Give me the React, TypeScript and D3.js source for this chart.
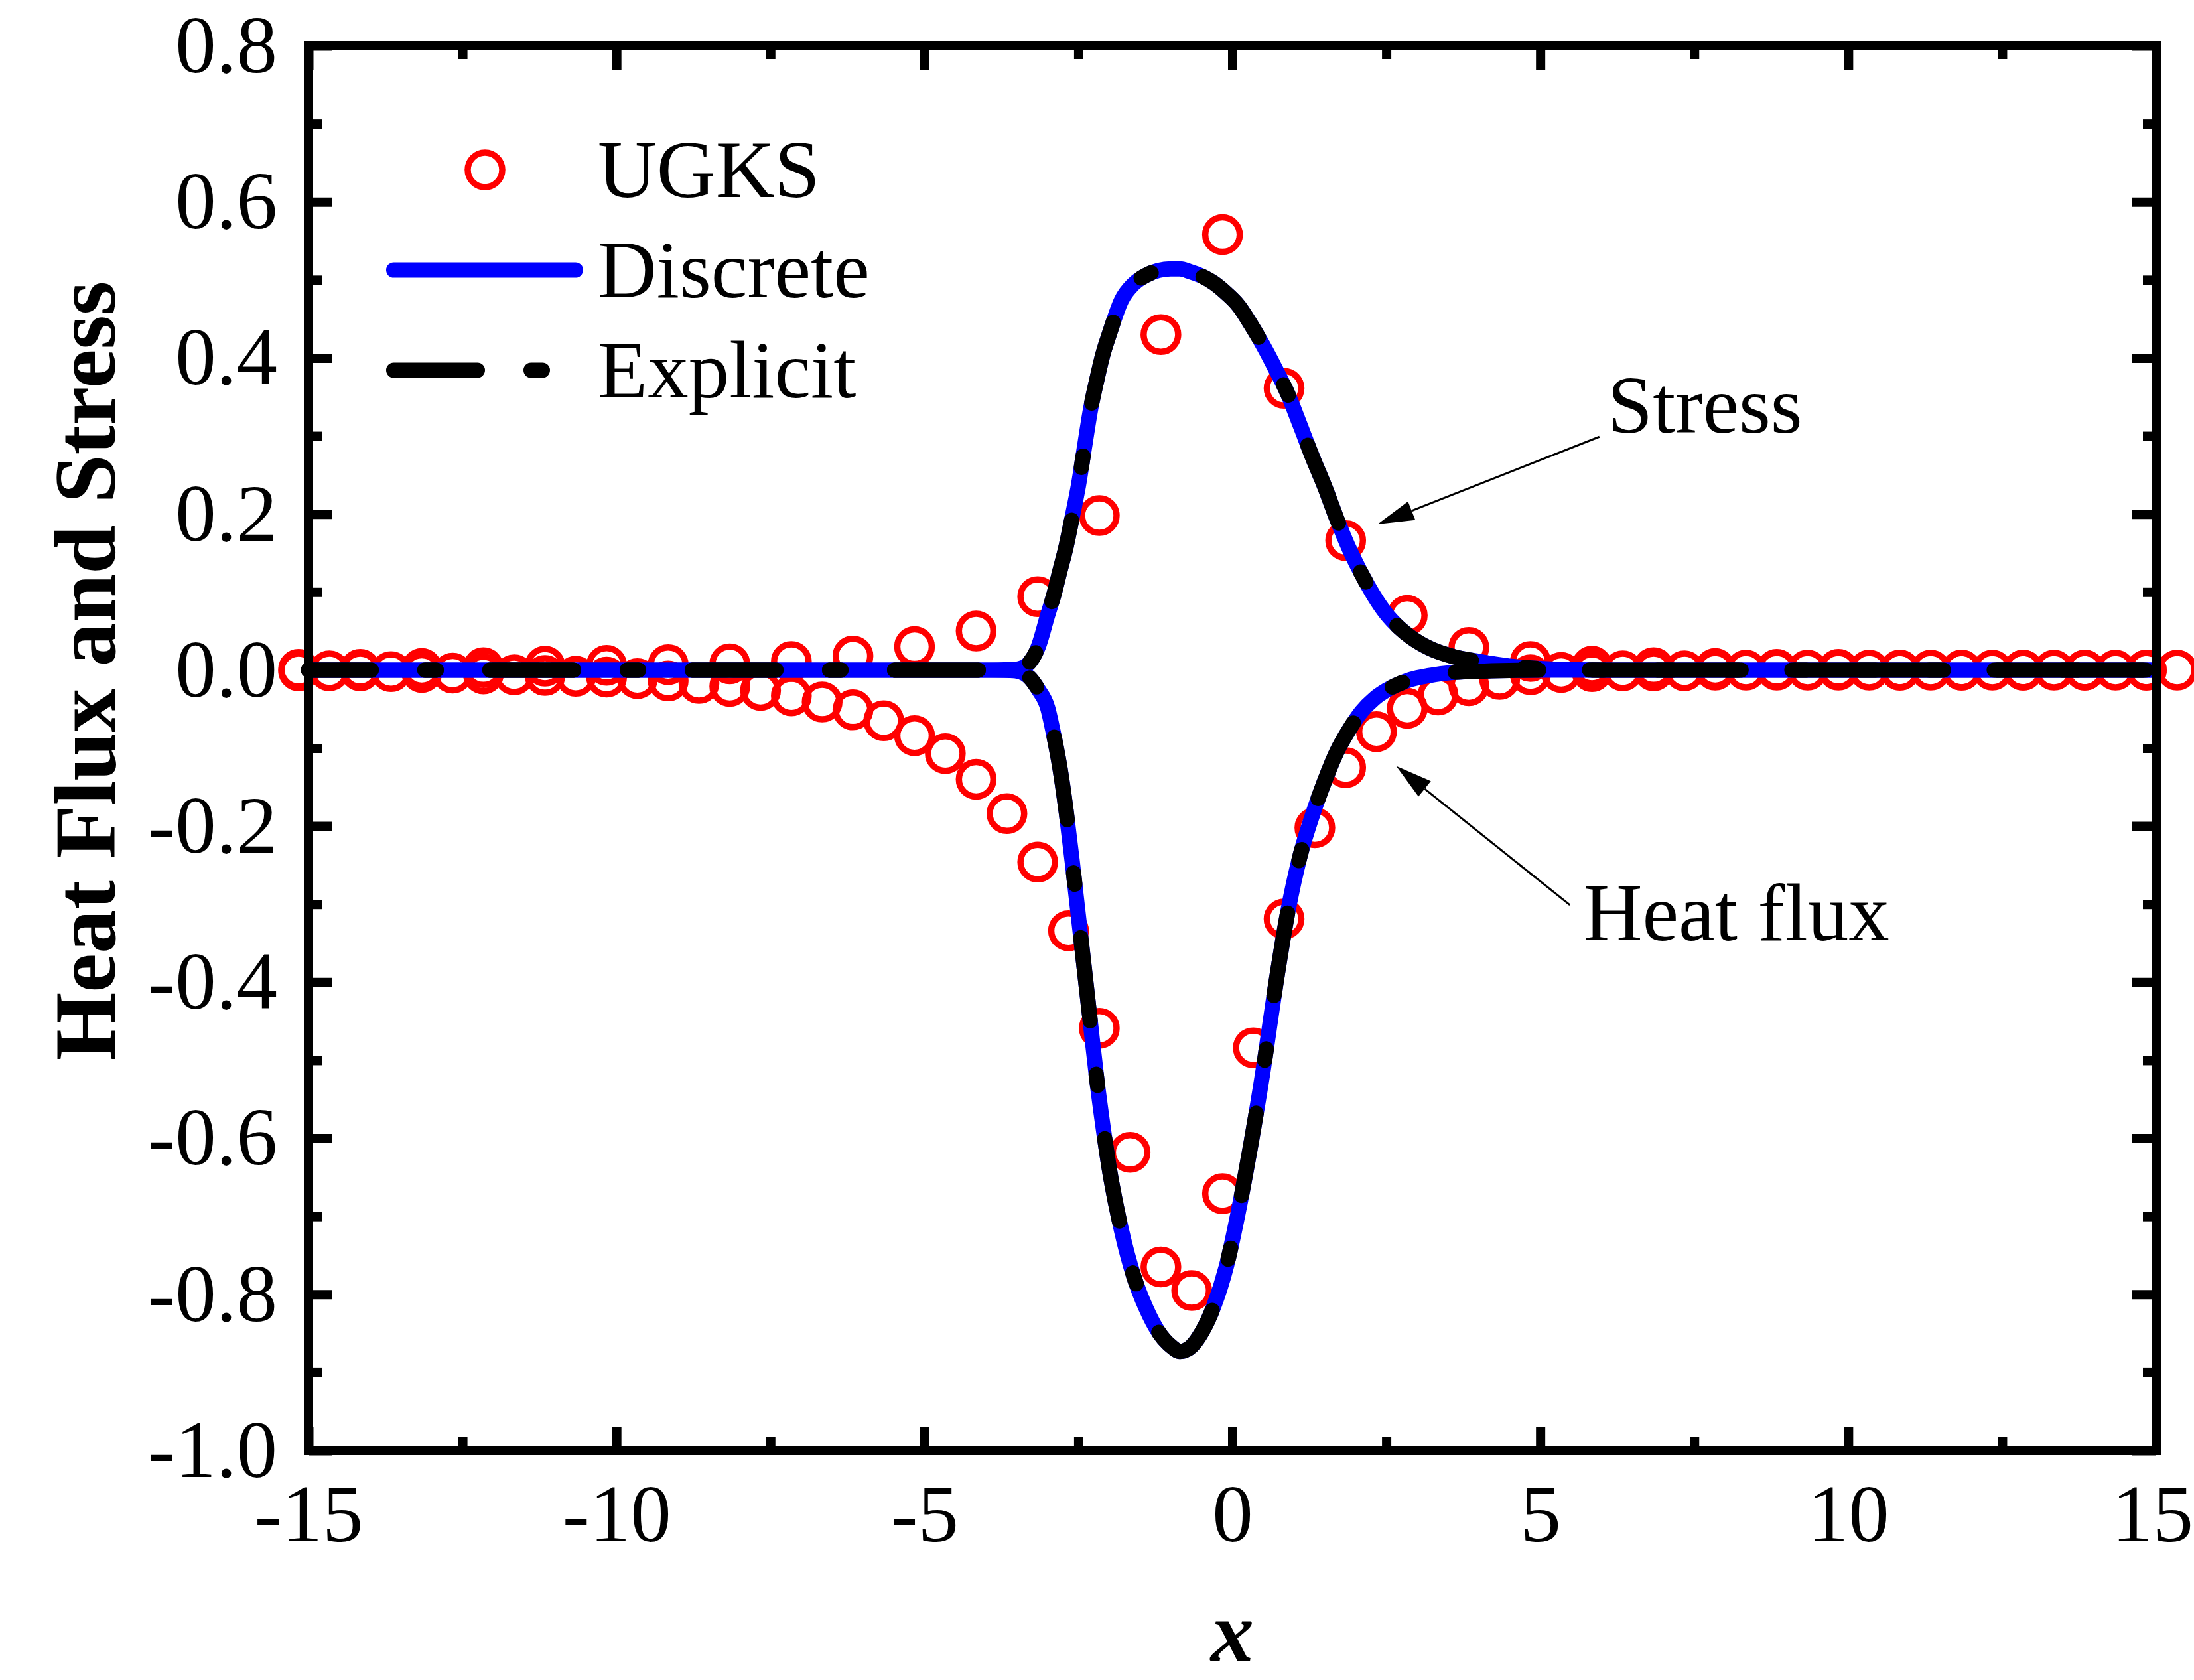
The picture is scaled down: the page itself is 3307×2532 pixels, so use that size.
import React, { useEffect, useRef } from 'react';
import * as d3 from 'd3';

// axis ticks
const xTicks = [-15, -10, -5, 0, 5, 10, 15];
const xMinor = [-12.5, -7.5, -2.5, 2.5, 7.5, 12.5];
const yTicks = [-1.0, -0.8, -0.6, -0.4, -0.2, 0.0, 0.2, 0.4, 0.6, 0.8];
const yMinor = [-0.9, -0.7, -0.5, -0.3, -0.1, 0.1, 0.3, 0.5, 0.7];

// Discrete / Explicit model curves (the two models overlap)
const modelX = [
  -15, -10, -5, -4, -3.6, -3.45, -3.3, -3.15, -3.0, -2.9, -2.8, -2.7, -2.6, -2.5,
  -2.4, -2.3, -2.2, -2.1, -2.0, -1.8, -1.6, -1.4, -1.2, -1.0, -0.85, -0.7, -0.5,
  -0.3, -0.1, 0.1, 0.3, 0.5, 0.7, 0.9, 1.1, 1.3, 1.5, 1.7, 1.9, 2.1, 2.3, 2.5,
  2.7, 2.9, 3.2, 3.6, 4.0, 4.5, 5.0, 5.5, 6, 10, 15,
];
const stressModel = [
  0, 0, 0, 0, 0.0005, 0.002, 0.009, 0.03, 0.07, 0.096, 0.127, 0.158, 0.196, 0.236,
  0.286, 0.335, 0.372, 0.405, 0.43, 0.474, 0.495, 0.506, 0.512, 0.514, 0.514, 0.511, 0.505,
  0.496, 0.483, 0.467, 0.443, 0.416, 0.386, 0.354, 0.314, 0.273, 0.235, 0.193, 0.155, 0.123, 0.095, 0.072,
  0.055, 0.042, 0.028, 0.017, 0.011, 0.005, 0.002, 0.0005, 0, 0, 0,
];
const heatModel = [
  0, 0, 0, 0, -0.0005, -0.002, -0.009, -0.025, -0.048, -0.083, -0.125, -0.18, -0.245, -0.315,
  -0.385, -0.455, -0.525, -0.585, -0.638, -0.718, -0.777, -0.818, -0.848, -0.866, -0.873, -0.869, -0.849,
  -0.815, -0.765, -0.693, -0.608, -0.513, -0.405, -0.31, -0.238, -0.186, -0.142, -0.104, -0.076, -0.053, -0.037, -0.026,
  -0.018, -0.012, -0.007, -0.003, -0.0015, -0.0005, 0, 0, 0, 0, 0,
];

// UGKS results
const ugksStressX = [
  -15.16, -14.16, -13.16, -12.16, -11.16, -10.16, -9.16, -8.16, -7.16, -6.16, -5.16,
  -4.16, -3.16, -2.16, -1.16, -0.16, 0.84, 1.84, 2.84, 3.84, 4.84, 5.84, 6.84, 7.84,
  8.84, 9.84, 10.84, 11.84, 12.84, 13.84, 14.84,
];
const ugksStress = [
  0.001, 0.001, 0.002, 0.003, 0.005, 0.006, 0.007, 0.008, 0.011, 0.018, 0.03,
  0.05, 0.094, 0.198, 0.43, 0.558, 0.361, 0.166, 0.07, 0.029, 0.011, 0.005, 0.003, 0.002,
  0.001, 0.001, 0, 0, 0, 0, 0,
];
const ugksHeatX = [
  -15.16, -14.66, -14.16, -13.66, -13.16, -12.66, -12.16, -11.66, -11.16, -10.66, -10.16,
  -9.66, -9.16, -8.66, -8.16, -7.66, -7.16, -6.66, -6.16, -5.66, -5.16, -4.66, -4.16,
  -3.66, -3.16, -2.66, -2.16, -1.66, -1.16, -0.66, -0.16, 0.34, 0.84, 1.34, 1.84, 2.34,
  2.84, 3.34, 3.84, 4.34, 4.84, 5.34, 5.84, 6.34, 6.84, 7.34, 7.84, 8.34, 8.84, 9.34,
  9.84, 10.34, 10.84, 11.34, 11.84, 12.34, 12.84, 13.34, 13.84, 14.34, 14.84, 15.34,
];
const ugksHeat = [
  -0.001, -0.001, -0.001, -0.002, -0.003, -0.004, -0.005, -0.006, -0.007, -0.008, -0.009,
  -0.011, -0.014, -0.017, -0.021, -0.026, -0.033, -0.041, -0.051, -0.065, -0.084, -0.107, -0.14,
  -0.184, -0.246, -0.334, -0.459, -0.618, -0.765, -0.795, -0.671, -0.484, -0.319, -0.202, -0.125, -0.079,
  -0.049, -0.032, -0.02, -0.012, -0.006, -0.003, -0.002, -0.001, -0.001, -0.001, 0, 0, 0, 0,
  0, 0, 0, 0, 0, 0, 0, 0, 0, 0, 0, 0,
];

const legendLabels = ['UGKS', 'Discrete', 'Explicit'];

const W = 3307;
const H = 2532;
const FONT = "'Liberation Serif', 'Times New Roman', Times, serif";

const App: React.FC = () => {
  const svgRef = useRef<SVGSVGElement | null>(null);

  useEffect(() => {
    document.body.style.margin = '0';
    if (!svgRef.current) return;
    const svg = d3.select(svgRef.current);
    svg.selectAll('*').remove();

    const margin = { top: 69, right: 57, bottom: 346, left: 465 };
    const x = d3.scaleLinear().domain([-15, 15]).range([margin.left, W - margin.right]);
    const y = d3.scaleLinear().domain([-1.0, 0.8]).range([H - margin.bottom, margin.top]);

    const fmtY = (d: d3.NumberValue) => d3.format('.1f')(d as number).replace('\u2212', '-');
    const fmtX = (d: d3.NumberValue) => d3.format('d')(d as number).replace('\u2212', '-');

    const styleAxis = (g: d3.Selection<SVGGElement, unknown, null, undefined>) => {
      g.select('.domain').remove();
      g.attr('font-size', 123).attr('font-family', FONT);
      g.selectAll('.tick line').attr('stroke-width', 14);
    };

    // UGKS circles (behind lines)
    const circles = svg.append('g').attr('fill', 'none').attr('stroke', '#ff0000').attr('stroke-width', 9.5);
    circles.selectAll('circle.s')
      .data(ugksStressX)
      .join('circle')
      .attr('class', 's')
      .attr('cx', d => x(d))
      .attr('cy', (_, i) => y(ugksStress[i]))
      .attr('r', 26);
    circles.selectAll('circle.h')
      .data(ugksHeatX)
      .join('circle')
      .attr('class', 'h')
      .attr('cx', d => x(d))
      .attr('cy', (_, i) => y(ugksHeat[i]))
      .attr('r', 26);

    const line = d3.line<number>()
      .x(d => x(d))
      .curve(d3.curveMonotoneX);

    const series = [stressModel, heatModel];
    // Discrete
    svg.append('g').selectAll('path')
      .data(series)
      .join('path')
      .attr('d', vals => line.y((_, i) => y(vals[i]))(modelX))
      .attr('fill', 'none')
      .attr('stroke', '#0000ff')
      .attr('stroke-width', 23)
      .attr('stroke-linejoin', 'round');
    // Explicit
    svg.append('g').selectAll('path')
      .data(series)
      .join('path')
      .attr('d', vals => line.y((_, i) => y(vals[i]))(modelX))
      .attr('fill', 'none')
      .attr('stroke', '#000')
      .attr('stroke-width', 23)
      .attr('stroke-linecap', 'round')
      .attr('stroke-dasharray', '126 81 17 81')
      .attr('stroke-dashoffset', 31.5);

    // frame
    svg.append('rect')
      .attr('x', margin.left)
      .attr('y', margin.top)
      .attr('width', W - margin.left - margin.right)
      .attr('height', H - margin.top - margin.bottom)
      .attr('fill', 'none')
      .attr('stroke', '#000')
      .attr('stroke-width', 14);

    // axes, ticks inward on all sides
    const bottom = H - margin.bottom;
    const right = W - margin.right;
    svg.append('g').attr('transform', `translate(0,${bottom})`)
      .call(d3.axisBottom(x).tickValues(xTicks).tickSize(-36).tickPadding(50).tickFormat(fmtX))
      .call(styleAxis)
      .call(g => g.selectAll<SVGTextElement, number>('.tick text').filter(d => d === 15).attr('dx', -6));
    svg.append('g').attr('transform', `translate(0,${bottom})`)
      .call(d3.axisBottom(x).tickValues(xMinor).tickSize(-20).tickFormat(() => ''))
      .call(styleAxis);
    svg.append('g').attr('transform', `translate(0,${margin.top})`)
      .call(d3.axisTop(x).tickValues(xTicks).tickSize(-36).tickFormat(() => ''))
      .call(styleAxis);
    svg.append('g').attr('transform', `translate(0,${margin.top})`)
      .call(d3.axisTop(x).tickValues(xMinor).tickSize(-20).tickFormat(() => ''))
      .call(styleAxis);
    svg.append('g').attr('transform', `translate(${margin.left},0)`)
      .call(d3.axisLeft(y).tickValues(yTicks).tickSize(-36).tickPadding(47).tickFormat(fmtY))
      .call(styleAxis);
    svg.append('g').attr('transform', `translate(${margin.left},0)`)
      .call(d3.axisLeft(y).tickValues(yMinor).tickSize(-20).tickFormat(() => ''))
      .call(styleAxis);
    svg.append('g').attr('transform', `translate(${right},0)`)
      .call(d3.axisRight(y).tickValues(yTicks).tickSize(-36).tickFormat(() => ''))
      .call(styleAxis);
    svg.append('g').attr('transform', `translate(${right},0)`)
      .call(d3.axisRight(y).tickValues(yMinor).tickSize(-20).tickFormat(() => ''))
      .call(styleAxis);

    // axis titles
    svg.append('text')
      .attr('transform', 'translate(173,1011) rotate(-90)')
      .attr('text-anchor', 'middle')
      .attr('font-family', FONT)
      .attr('font-weight', 'bold')
      .attr('font-size', 132)
      .text('Heat Flux and Stress');
    svg.append('text')
      .attr('x', x(0))
      .attr('y', 2503)
      .attr('text-anchor', 'middle')
      .attr('font-family', FONT)
      .attr('font-weight', 'bold')
      .attr('font-style', 'italic')
      .attr('font-size', 130)
      .text('x');

    // legend
    const lg = svg.append('g').attr('font-family', FONT).attr('font-size', 123);
    const rows = [256, 407, 558];
    lg.append('circle')
      .attr('cx', 731).attr('cy', rows[0]).attr('r', 26)
      .attr('fill', 'none').attr('stroke', '#ff0000').attr('stroke-width', 9.5);
    lg.append('line')
      .attr('x1', 593.5).attr('x2', 867.5).attr('y1', rows[1]).attr('y2', rows[1])
      .attr('stroke', '#0000ff').attr('stroke-width', 23).attr('stroke-linecap', 'round');
    lg.append('line')
      .attr('x1', 593.5).attr('x2', 867.5).attr('y1', rows[2]).attr('y2', rows[2])
      .attr('stroke', '#000').attr('stroke-width', 23).attr('stroke-linecap', 'round')
      .attr('stroke-dasharray', '126 81 17 81');
    lg.selectAll('text.lab')
      .data(legendLabels)
      .join('text')
      .attr('class', 'lab')
      .attr('x', 901)
      .attr('y', (_, i) => rows[i] + 41)
      .text(d => d);

    // annotations with arrows
    const notes = [
      { label: 'Stress', at: [6.09, 0.304], tail: [5.96, 0.299], tip: [2.36, 0.187] },
      { label: 'Heat flux', at: [5.7, -0.346], tail: [5.48, -0.301], tip: [2.66, -0.123] },
    ];
    const ann = svg.append('g');
    notes.forEach(n => {
      const tx = x(n.tail[0]), ty = y(n.tail[1]);
      const px = x(n.tip[0]), py = y(n.tip[1]);
      const len = Math.hypot(tx - px, ty - py);
      const ux = (tx - px) / len, uy = (ty - py) / len;
      const headL = 55, headW = 15;
      const bx = px + ux * headL, by = py + uy * headL;
      ann.append('line')
        .attr('x1', tx).attr('y1', ty).attr('x2', bx).attr('y2', by)
        .attr('stroke', '#000').attr('stroke-width', 3);
      ann.append('path')
        .attr('d', `M${px},${py}L${bx - uy * headW},${by + ux * headW}L${bx + uy * headW},${by - ux * headW}Z`)
        .attr('fill', '#000');
      ann.append('text')
        .attr('x', x(n.at[0]))
        .attr('y', y(n.at[1]))
        .attr('font-family', FONT)
        .attr('font-size', 123)
        .text(n.label);
    });
  }, []);

  return <svg ref={svgRef} width={W} height={H} style={{ display: 'block', background: '#fff' }}></svg>;
};

export default App;
